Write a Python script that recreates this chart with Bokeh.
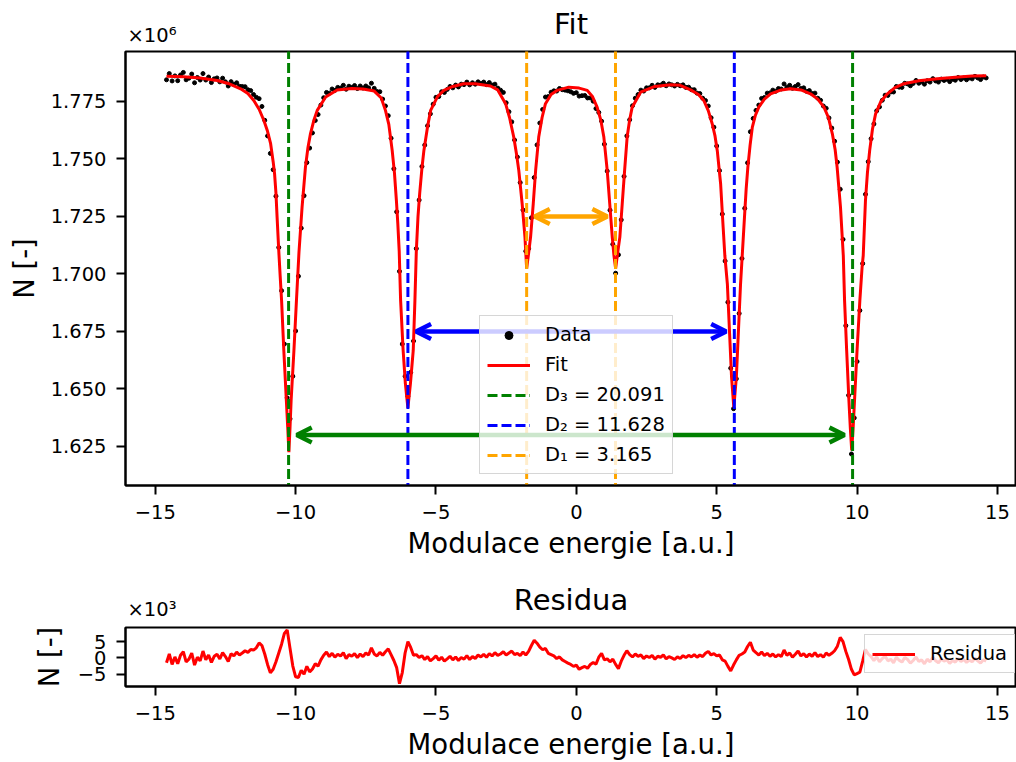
import numpy as np
from bokeh.plotting import figure
from bokeh.models import (Range1d, FixedTicker, PrintfTickFormatter, CustomJSTickFormatter,
                          Legend, LegendItem, Arrow, OpenHead, Title)
from bokeh.layouts import column
from bokeh.embed import file_html
from bokeh.resources import INLINE

# ---------------- data ----------------
# channel energies: evenly spaced channels from -14.6 to 14.6 a.u.
energy = np.round(np.linspace(-14.6, 14.6, 293), 2)

# measured counts, in units of 10^6
counts_1e6 = [
    1.7844, 1.7871, 1.7839, 1.7861, 1.7840, 1.7865, 1.7876, 1.7844, 1.7851, 1.7869,
    1.7831, 1.7854, 1.7843, 1.7871, 1.7843, 1.7856, 1.7832, 1.7848, 1.7852, 1.7835,
    1.7851, 1.7835, 1.7817, 1.7836, 1.7824, 1.7831, 1.7816, 1.7815, 1.7814, 1.7801,
    1.7797, 1.7780, 1.7768, 1.7762, 1.7728, 1.7668, 1.7600, 1.7524, 1.7453, 1.7338,
    1.7115, 1.6927, 1.6695, 1.6461, 1.6370, 1.6555, 1.6752, 1.6990, 1.7199, 1.7340,
    1.7484, 1.7547, 1.7613, 1.7667, 1.7693, 1.7734, 1.7766, 1.7789, 1.7786, 1.7804,
    1.7798, 1.7811, 1.7808, 1.7820, 1.7803, 1.7816, 1.7811, 1.7819, 1.7806, 1.7817,
    1.7808, 1.7817, 1.7809, 1.7829, 1.7807, 1.7793, 1.7792, 1.7760, 1.7730, 1.7688,
    1.7590, 1.7457, 1.7270, 1.7011, 1.6695, 1.6555, 1.6468, 1.6572, 1.6708, 1.7110,
    1.7321, 1.7467, 1.7560, 1.7644, 1.7696, 1.7738, 1.7768, 1.7771, 1.7792, 1.7789,
    1.7802, 1.7815, 1.7809, 1.7821, 1.7813, 1.7825, 1.7823, 1.7834, 1.7822, 1.7831,
    1.7825, 1.7835, 1.7828, 1.7834, 1.7823, 1.7832, 1.7821, 1.7825, 1.7808, 1.7799,
    1.7789, 1.7744, 1.7705, 1.7661, 1.7582, 1.7508, 1.7397, 1.7278, 1.7099, 1.7110,
    1.7244, 1.7419, 1.7561, 1.7656, 1.7715, 1.7769, 1.7771, 1.7790, 1.7796, 1.7795,
    1.7806, 1.7801, 1.7799, 1.7796, 1.7792, 1.7785, 1.7788, 1.7773, 1.7775, 1.7776,
    1.7765, 1.7765, 1.7751, 1.7719, 1.7702, 1.7664, 1.7564, 1.7447, 1.7277, 1.7129,
    1.7003, 1.7083, 1.7235, 1.7424, 1.7600, 1.7670, 1.7731, 1.7764, 1.7780, 1.7799,
    1.7795, 1.7809, 1.7809, 1.7820, 1.7811, 1.7822, 1.7821, 1.7829, 1.7818, 1.7826,
    1.7822, 1.7817, 1.7824, 1.7818, 1.7822, 1.7811, 1.7812, 1.7801, 1.7801, 1.7786,
    1.7784, 1.7764, 1.7754, 1.7730, 1.7679, 1.7638, 1.7556, 1.7449, 1.7260, 1.7056,
    1.6877, 1.6590, 1.6414, 1.6544, 1.6828, 1.7067, 1.7285, 1.7483, 1.7618, 1.7676,
    1.7711, 1.7734, 1.7763, 1.7767, 1.7786, 1.7787, 1.7799, 1.7794, 1.7806, 1.7804,
    1.7826, 1.7812, 1.7820, 1.7807, 1.7815, 1.7823, 1.7806, 1.7809, 1.7794, 1.7797,
    1.7784, 1.7786, 1.7764, 1.7755, 1.7730, 1.7720, 1.7678, 1.7634, 1.7577, 1.7486,
    1.7368, 1.7150, 1.6775, 1.6472, 1.6217, 1.6374, 1.6619, 1.6841, 1.7045, 1.7346,
    1.7488, 1.7588, 1.7652, 1.7709, 1.7726, 1.7755, 1.7777, 1.7776, 1.7791, 1.7791,
    1.7815, 1.7812, 1.7811, 1.7829, 1.7826, 1.7818, 1.7828, 1.7841, 1.7829, 1.7835,
    1.7825, 1.7840, 1.7834, 1.7849, 1.7839, 1.7834, 1.7847, 1.7841, 1.7846, 1.7836,
    1.7846, 1.7842, 1.7854, 1.7845, 1.7852, 1.7844, 1.7852, 1.7848, 1.7859, 1.7852,
    1.7845, 1.7856, 1.7852,
]

# residuals (data - fit), in units of 10^3
residua_1e3 = [
    -1.5, 1.2, -2.0, 0.3, -1.8, 0.8, 1.9, -1.2, -0.4, 1.5,
    -2.2, 0.2, -0.9, 2.1, -0.6, 0.9, -1.4, 0.5, 1.1, -0.3,
    1.6, 0.4, -1.1, 1.3, 0.6, 1.8, 0.9, 1.5, 2.2, 1.7,
    2.6, 2.4, 3.1, 4.6, 3.8, 1.2, -2.0, -4.6, -3.5, -1.2,
    1.5, 4.2, 7.5, 8.6, 3.0, -2.5, -5.8, -6.0, -3.8, -5.0,
    -2.6, -4.3, -3.4, -1.8, -2.5, -0.6, 0.8, 1.8, 0.4, 1.4,
    0.2, 1.1, 0.6, 1.6, -0.2, 1.0, 0.5, 1.3, 0.1, 1.2,
    0.4, 1.5, 0.9, 3.1, 1.2, 0.6, 1.7, 0.8, 1.9, 2.8,
    1.0, -0.8, -3.0, -7.9, -4.5, 1.5, 5.0, 3.2, 0.8, 1.0,
    0.1, 0.7, -0.5, 0.4, -0.9, -0.2, 0.6, -0.7, 0.2, -1.0,
    -0.3, 0.5, -0.6, 0.3, -0.8, 0.1, -0.4, 0.7, -0.5, 0.4,
    -0.2, 0.9, 0.3, 1.1, 0.2, 1.3, 0.6, 1.6, 0.8, 1.2,
    1.9, 0.9, 1.5, 2.1, 1.0, 1.4, 0.7, 1.8, 0.9, 2.0,
    3.8, 5.4, 4.5, 3.3, 2.5, 2.9, 1.4, 1.0, 0.6, -0.2,
    0.3, -0.6, -1.1, -1.6, -2.0, -2.6, -2.2, -3.5, -3.0, -2.6,
    -3.2, -2.0, -1.4, -1.9, 0.2, 1.4, -0.6, -0.3, -1.2, -0.4,
    -2.0, -3.3, -1.0, 0.8, 2.2, 1.0, 0.3, 1.2, 0.5, 0.9,
    -0.2, 0.6, 0.1, 0.8, -0.4, 0.5, 0.2, 0.9, -0.3, 0.4,
    0.0, -0.5, 0.3, -0.2, 0.7, 0.1, 0.8, 0.3, 1.0, 0.2,
    0.9, 0.4, 1.4, 2.0, 0.9, 1.3, 0.6, 0.9, -0.6, -1.0,
    -2.6, -4.0, -2.2, -0.6, 0.8, 1.2, 1.8, 3.5, 4.8, 2.4,
    1.6, 0.9, 1.8, 0.7, 1.4, 0.5, 1.2, 0.3, 1.0, 0.4,
    2.4, 0.8, 1.5, 0.2, 1.1, 2.1, 0.6, 1.3, 0.3, 1.2,
    0.5, 1.6, 0.4, 1.0, 0.2, 1.5, 0.8, 1.4, 2.2, 3.6,
    6.3, 5.0, 2.0, -0.5, -3.5, -5.2, -4.8, -4.4, -1.0, 2.6,
    1.2, 0.4, -0.8, 0.3, -1.2, -0.2, 0.5, -0.9, -0.4, -1.5,
    0.2, -0.7, -1.3, 0.1, -0.5, -1.6, -0.8, 0.3, -1.1, -0.6,
    -1.8, -0.4, -1.2, 0.2, -0.9, -1.5, -0.3, -1.0, -0.6, -1.7,
    -0.8, -1.3, -0.2, -1.1, -0.5, -1.4, -0.7, -1.2, -0.1, -0.9,
    -1.6, -0.6, -1.0,
]

# fitted curve (energy, counts in 10^6)
fit_energy = [
    -14.60, -14.0, -13.4, -12.79, -12.4, -11.96, -11.7, -11.49, -11.3, -11.13,
    -11.0, -10.89, -10.80, -10.75, -10.70, -10.66, -10.60, -10.55, -10.50, -10.42,
    -10.33, -10.28, -10.24, -10.20, -10.16, -10.06, -9.97, -9.88, -9.77, -9.65,
    -9.56, -9.47, -9.35, -9.23, -8.93, -8.52, -8.0, -7.6, -7.2, -6.95,
    -6.80, -6.68, -6.56, -6.48, -6.41, -6.36, -6.31, -6.26, -6.17, -6.09,
    -6.00, -5.91, -5.81, -5.75, -5.70, -5.64, -5.58, -5.50, -5.43, -5.30,
    -5.19, -4.95, -4.72, -4.4, -4.01, -3.6, -3.06, -2.80, -2.52, -2.38,
    -2.23, -2.13, -2.05, -1.93, -1.83, -1.77, -1.70, -1.63, -1.535, -1.45,
    -1.34, -1.22, -1.10, -0.90, -0.68, -0.27, 0.10, 0.39, 0.58, 0.74,
    0.87, 0.98, 1.10, 1.19, 1.28, 1.34, 1.40, 1.47, 1.55, 1.635,
    1.72, 1.81, 1.90, 1.99, 2.29, 2.80, 3.36, 3.70, 4.07, 4.35,
    4.54, 4.70, 4.84, 4.94, 5.02, 5.14, 5.23, 5.29, 5.38, 5.46,
    5.53, 5.61, 5.70, 5.77, 5.85, 5.91, 5.99, 6.05, 6.11, 6.19,
    6.27, 6.38, 6.50, 6.70, 6.92, 7.30, 7.63, 8.00, 8.34, 8.60,
    8.82, 8.98, 9.12, 9.22, 9.29, 9.41, 9.51, 9.555, 9.63, 9.71,
    9.76, 9.81, 9.86, 9.91, 10.00, 10.10, 10.18, 10.22, 10.30, 10.37,
    10.45, 10.55, 10.66, 10.85, 11.08, 11.35, 11.67, 12.20, 12.86, 13.50,
    14.10, 14.60,
]
fit_1e6 = [
    1.7859, 1.7857, 1.7852, 1.7841, 1.7828, 1.7805, 1.7784, 1.7754, 1.7716, 1.7667,
    1.7620, 1.7566, 1.7488, 1.7436, 1.7350, 1.7247, 1.7100, 1.6990, 1.6885, 1.6667,
    1.6450, 1.6330, 1.6225, 1.6330, 1.6450, 1.6667, 1.6885, 1.7095, 1.7290, 1.7464,
    1.7550, 1.7610, 1.7668, 1.7711, 1.7769, 1.7800, 1.7806, 1.7804, 1.7795, 1.7765,
    1.7711, 1.7650, 1.7537, 1.7440, 1.7320, 1.7220, 1.7100, 1.6885, 1.6667, 1.6523,
    1.6418, 1.6523, 1.6667, 1.6885, 1.7100, 1.7250, 1.7350, 1.7460, 1.7537, 1.7640,
    1.7711, 1.7770, 1.7798, 1.7815, 1.7827, 1.7827, 1.7817, 1.7800, 1.7740, 1.7680,
    1.7595, 1.7520, 1.7450, 1.7305, 1.7160, 1.7023, 1.7090, 1.7160, 1.7305, 1.7450,
    1.7595, 1.7680, 1.7740, 1.7780, 1.7798, 1.7812, 1.7808, 1.7798, 1.7770, 1.7725,
    1.7670, 1.7595, 1.7450, 1.7305, 1.7160, 1.7080, 1.7023, 1.7090, 1.7160, 1.7305,
    1.7450, 1.7595, 1.7670, 1.7725, 1.7790, 1.7815, 1.7822, 1.7820, 1.7800, 1.7780,
    1.7754, 1.7710, 1.7653, 1.7600, 1.7537, 1.7392, 1.7203, 1.7080, 1.6957, 1.6740,
    1.6550, 1.6420, 1.6550, 1.6740, 1.6957, 1.7080, 1.7247, 1.7370, 1.7464, 1.7560,
    1.7638, 1.7690, 1.7725, 1.7760, 1.7783, 1.7800, 1.7805, 1.7800, 1.7783, 1.7760,
    1.7725, 1.7680, 1.7609, 1.7540, 1.7464, 1.7290, 1.7080, 1.6885, 1.6667, 1.6450,
    1.6330, 1.6233, 1.6330, 1.6450, 1.6667, 1.6885, 1.7030, 1.7080, 1.7320, 1.7440,
    1.7537, 1.7630, 1.7696, 1.7750, 1.7783, 1.7810, 1.7827, 1.7840, 1.7849, 1.7855,
    1.7860, 1.7862,
]

# line pairs: left line position and distance D between the two lines
pair_names = ["D₃", "D₂", "D₁"]
pair_left = [-10.25, -6.00, -1.77]
pair_dist = [20.091, 11.628, 3.165]
pair_arrow_level_1e6 = [1.630, 1.675, 1.725]
pair_colors = ["green", "blue", "orange"]

x_ticks = [-15, -10, -5, 0, 5, 10, 15]
y_ticks_1e6 = [1.625, 1.650, 1.675, 1.700, 1.725, 1.750, 1.775]
res_ticks_1e3 = [-5, 0, 5]

# ---------------- styling helpers ----------------
FONT = "DejaVu Sans"
MINUS_FMT = CustomJSTickFormatter(code="return tick < 0 ? '\\u2212' + (-tick) : '' + tick;")


def style(p, title_text, exp_text, exp_standoff, title_standoff):
    p.xgrid.visible = False
    p.ygrid.visible = False
    p.outline_line_color = "black"
    p.outline_line_width = 2
    p.background_fill_color = "white"
    p.border_fill_color = "white"
    # offset-exponent text sits just above the frame, title partly overlapping it
    p.add_layout(Title(text=exp_text, align="left", offset=2, standoff=exp_standoff,
                       text_font=FONT, text_font_size="19.5px",
                       text_font_style="normal", text_color="black"), "above")
    p.add_layout(Title(text=title_text, align="center", offset=5, standoff=title_standoff,
                       text_font=FONT, text_font_size="29px",
                       text_font_style="normal", text_color="black"), "above")
    for ax in (p.xaxis[0], p.yaxis[0]):
        ax.axis_line_color = "black"
        ax.axis_line_width = 2
        ax.major_tick_line_color = "black"
        ax.major_tick_line_width = 2
        ax.major_tick_out = 9
        ax.major_tick_in = 0
        ax.minor_tick_line_color = None
        ax.major_label_text_font = FONT
        ax.major_label_text_font_size = "19.5px"
        ax.major_label_text_color = "black"
        ax.axis_label_text_font = FONT
        ax.axis_label_text_font_size = "27.5px"
        ax.axis_label_text_font_style = "normal"
        ax.axis_label_text_color = "black"
    p.xaxis[0].ticker = FixedTicker(ticks=x_ticks)
    p.xaxis[0].formatter = MINUS_FMT
    p.xaxis[0].major_label_standoff = 10
    p.xaxis[0].axis_label_standoff = 5
    p.xaxis[0].axis_label = "Modulace energie [a.u.]"
    p.yaxis[0].axis_label = "N [-]"


def style_legend(lg):
    lg.label_text_font = FONT
    lg.label_text_font_size = "19.5px"
    lg.label_text_color = "black"
    lg.glyph_width = 43
    lg.glyph_height = 20
    lg.label_height = 20
    lg.label_standoff = 15
    lg.spacing = 7
    lg.padding = 7
    lg.margin = 0
    lg.background_fill_color = "white"
    lg.background_fill_alpha = 0.8
    lg.border_line_color = "#cccccc"
    lg.border_line_width = 1.5
    lg.border_line_alpha = 0.8


X0, X1 = -16.06, 15.68

# ---------------- top: fit ----------------
p1 = figure(width=1016, height=575,
            x_range=Range1d(X0, X1), y_range=Range1d(1.6080, 1.7967),
            output_backend="svg", toolbar_location=None,
            min_border_left=125, min_border_right=0,
            min_border_top=51, min_border_bottom=90)
style(p1, "Fit", "×10⁶", 9, -46)
p1.yaxis[0].ticker = FixedTicker(ticks=y_ticks_1e6)
p1.yaxis[0].formatter = PrintfTickFormatter(format="%.3f")
p1.yaxis[0].major_label_standoff = 10
p1.yaxis[0].axis_label_standoff = 8

r_data = p1.scatter(energy, counts_1e6, size=4, color="black")
r_fit = p1.line(fit_energy, fit_1e6, color="red", line_width=3)

pair_renderers = []
for left, dist, col in zip(pair_left, pair_dist, pair_colors):
    right = left + dist
    r = p1.multi_line(xs=[[left, left], [right, right]], ys=[[1.55, 1.85], [1.55, 1.85]],
                      line_color=col, line_width=3, line_dash="10 4")
    pair_renderers.append(r)

for left, dist, level, col in zip(pair_left, pair_dist, pair_arrow_level_1e6, pair_colors):
    right = left + dist
    p1.add_layout(Arrow(start=OpenHead(size=15, line_color=col, line_width=4.5),
                        end=OpenHead(size=15, line_color=col, line_width=4.5),
                        x_start=left + 0.29, x_end=right - 0.29,
                        y_start=level, y_end=level,
                        line_color=col, line_width=4.5))

items = [LegendItem(label="Data", renderers=[r_data]),
         LegendItem(label="Fit", renderers=[r_fit])]
for name, dist, r in zip(pair_names, pair_dist, pair_renderers):
    items.append(LegendItem(label=f"{name} = {dist:.3f}", renderers=[r]))
lg1 = Legend(items=items, location=(354, 11))
style_legend(lg1)
p1.add_layout(lg1, "center")

# ---------------- bottom: residuals ----------------
p2 = figure(width=1016, height=187,
            x_range=Range1d(X0, X1), y_range=Range1d(-8.78, 9.33),
            output_backend="svg", toolbar_location=None,
            min_border_left=125, min_border_right=0,
            min_border_top=52, min_border_bottom=73)
style(p2, "Residua", "×10³", 13, -55)
p2.yaxis[0].ticker = FixedTicker(ticks=res_ticks_1e3)
p2.yaxis[0].formatter = MINUS_FMT
p2.yaxis[0].major_label_standoff = 10
p2.yaxis[0].axis_label_standoff = 10

r_res = p2.line(energy, residua_1e3, color="red", line_width=3)
lg2 = Legend(items=[LegendItem(label="Residua", renderers=[r_res])], location=(739, 13))
style_legend(lg2)
p2.add_layout(lg2, "center")

layout = column(p1, p2, spacing=0)
open("out.html", "w").write(file_html(layout, INLINE))
